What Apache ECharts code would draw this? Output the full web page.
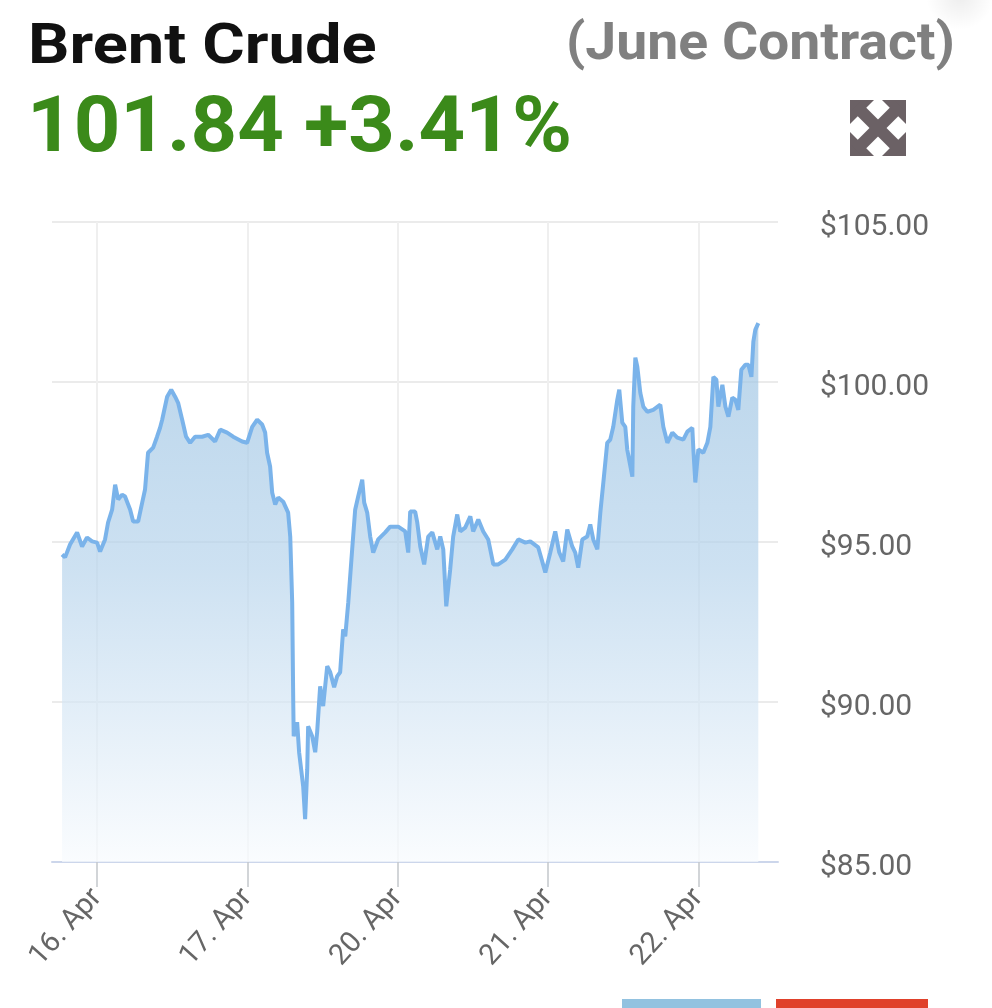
<!DOCTYPE html>
<html><head><meta charset="utf-8">
<script src="https://cdn.jsdelivr.net/npm/echarts@6/dist/echarts.min.js"></script>
<style>html,body{margin:0;padding:0;background:#fff}#c{width:992px;height:1008px}</style>
</head><body><div id="c"></div>
<script>
const xTickValues = [0, 1, 2, 3, 4];
const xTickLabels = ['16. Apr', '17. Apr', '20. Apr', '21. Apr', '22. Apr'];
const yMin = 85, yMax = 105, yStep = 5;
const titleText = 'Brent Crude';
const contractText = '(June Contract)';
const quoteText = '101.84 +3.41%';

// x = trading-day index (16 Apr = 0, 17 Apr = 1, 20 Apr = 2, 21 Apr = 3, 22 Apr = 4)
const days = [
  -0.233,-0.213,-0.180,-0.133,-0.100,-0.067,-0.033,0.000,0.020,0.053,
  0.073,0.100,0.120,0.140,0.166,0.186,0.220,0.240,0.273,0.300,
  0.319,0.339,0.373,0.399,0.419,0.433,0.466,0.493,0.519,0.539,
  0.566,0.592,0.619,0.652,0.699,0.739,0.785,0.819,0.865,0.905,
  0.965,0.998,1.032,1.065,1.098,1.118,1.131,1.151,1.165,1.185,
  1.205,1.238,1.271,1.285,1.298,1.305,1.308,1.331,1.344,1.371,
  1.384,1.398,1.404,1.431,1.451,1.464,1.484,1.504,1.531,1.551,
  1.577,1.597,1.617,1.637,1.651,1.671,1.697,1.717,1.737,1.764,
  1.777,1.797,1.817,1.837,1.870,1.917,1.950,2.003,2.050,2.070,
  2.083,2.116,2.130,2.150,2.176,2.203,2.230,2.263,2.283,2.303,
  2.323,2.349,2.369,2.396,2.416,2.449,2.483,2.502,2.536,2.569,
  2.602,2.636,2.669,2.716,2.762,2.802,2.849,2.882,2.895,2.935,
  2.982,3.015,3.048,3.075,3.101,3.128,3.161,3.181,3.201,3.228,
  3.261,3.281,3.301,3.328,3.348,3.368,3.394,3.414,3.434,3.461,
  3.474,3.494,3.514,3.527,3.561,3.567,3.581,3.594,3.614,3.634,
  3.661,3.700,3.747,3.767,3.794,3.827,3.860,3.900,3.927,3.960,
  3.967,3.980,4.000,4.033,4.060,4.080,4.100,4.120,4.133,4.160,
  4.180,4.200,4.226,4.246,4.266,4.286,4.313,4.333,4.353,4.366,
  4.379,4.399
];
const prices = [
  94.61,94.52,94.92,95.30,94.86,95.14,95.02,94.98,94.70,95.08,
  95.61,96.01,96.79,96.33,96.48,96.42,96.01,95.64,95.64,96.23,
  96.64,97.79,97.95,98.29,98.57,98.82,99.54,99.76,99.54,99.35,
  98.82,98.29,98.10,98.29,98.29,98.35,98.14,98.51,98.42,98.29,
  98.14,98.10,98.60,98.82,98.67,98.42,97.79,97.36,96.54,96.17,
  96.39,96.26,95.92,95.17,93.11,89.99,88.93,89.37,88.43,87.37,
  86.34,87.90,89.24,88.93,88.43,89.06,90.49,89.87,91.12,90.93,
  90.46,90.80,90.93,92.27,92.05,93.11,94.77,96.01,96.42,96.95,
  96.23,95.92,95.17,94.67,95.08,95.30,95.48,95.48,95.33,94.67,
  95.95,95.95,95.61,94.86,94.30,95.17,95.30,94.77,95.17,94.77,
  92.99,94.14,95.17,95.86,95.33,95.45,95.80,95.33,95.70,95.33,
  95.08,94.30,94.30,94.45,94.77,95.08,94.98,95.02,95.08,94.83,
  94.05,94.67,95.33,94.67,94.39,95.39,94.86,94.67,94.20,95.08,
  95.17,95.55,95.08,94.77,95.92,96.86,98.10,98.20,98.60,99.45,
  99.76,98.73,98.60,97.89,97.04,99.23,100.76,100.48,99.66,99.23,
  99.07,99.13,99.29,98.60,98.10,98.42,98.26,98.20,98.45,98.57,
  97.89,96.86,97.89,97.79,98.10,98.60,100.16,100.07,99.23,99.91,
  99.23,98.92,99.51,99.45,99.13,100.38,100.54,100.54,100.16,101.26,
  101.63,101.84
];

const seriesData = days.map((d, i) => [d, prices[i]]);
const chart = echarts.init(document.getElementById('c'), null, {renderer: 'canvas'});
const FONT = 'Roboto, "Noto Sans", sans-serif';
const ICON = '#6b6165';

chart.setOption({
  animation: false,
  backgroundColor: '#ffffff',
  grid: {left: 52, right: 214, top: 222, bottom: 146},
  xAxis: {
    type: 'value', min: -0.3, max: 4.53,
    axisLine: {show: true, onZero: false, lineStyle: {color: '#ccd6eb', width: 2}},
    axisTick: {show: true, length: 25, customValues: xTickValues, lineStyle: {color: '#c4c7cc', width: 1.5}},
    axisLabel: {
      customValues: xTickValues, rotate: 48, margin: 31, color: '#666666',
      fontSize: 29, fontFamily: FONT,
      formatter: v => xTickLabels[xTickValues.indexOf(Math.round(v))] || ''
    },
    splitLine: {show: true, lineStyle: {color: '#efefef', width: 2}}
  },
  yAxis: {
    type: 'value', position: 'right', min: yMin, max: yMax, interval: yStep,
    axisLine: {show: false}, axisTick: {show: false},
    axisLabel: {margin: 42, color: '#666666', fontSize: 30, fontFamily: FONT,
      verticalAlign: 'top', lineHeight: 11,
      formatter: v => '$' + v.toFixed(2)},
    splitLine: {show: true, lineStyle: {color: '#ebebeb', width: 2}}
  },
  series: [{
    type: 'line', data: seriesData, showSymbol: false, symbol: 'none',
    lineStyle: {color: '#7ab3ea', width: 4},
    areaStyle: {
      origin: 'start',
      color: new echarts.graphic.LinearGradient(0, 0, 0, 1, [
        {offset: 0, color: '#9cc3e2'},
        {offset: 0.45, color: '#b7d4ec'},
        {offset: 1, color: '#f8fbfe'}
      ])
    }
  }],
  graphic: [
    {type: 'ellipse', shape: {cx: 960, cy: -4, rx: 120, ry: 34},
      style: {fill: new echarts.graphic.RadialGradient(0.5, 0.5, 0.5, [
        {offset: 0, color: 'rgba(0,0,0,0.07)'}, {offset: 1, color: 'rgba(0,0,0,0)'}])}},
    {type: 'text', x: 28, y: 21, scaleX: 1.16, style: {text: titleText, font: 'bold 56px ' + FONT, fill: '#111111', textAlign: 'left', textVerticalAlign: 'top'}},
    {type: 'text', x: 955, y: 20, scaleX: 1.064, style: {text: contractText, font: 'bold 52px ' + FONT, fill: '#808080', textAlign: 'right', textVerticalAlign: 'top'}},
    {type: 'text', x: 27, y: 93, scaleX: 1.056, style: {text: quoteText, font: 'bold 77px ' + FONT, fill: '#3b8a1a', textAlign: 'left', textVerticalAlign: 'top'}},
    {type: 'group', x: 850, y: 100, children: [
      {type: 'polygon', shape: {points: [[0, 0], [24, 0], [0, 24]]}, style: {fill: ICON}},
      {type: 'polygon', shape: {points: [[56, 0], [32, 0], [56, 24]]}, style: {fill: ICON}},
      {type: 'polygon', shape: {points: [[0, 56], [24, 56], [0, 32]]}, style: {fill: ICON}},
      {type: 'polygon', shape: {points: [[56, 56], [32, 56], [56, 32]]}, style: {fill: ICON}},
      {type: 'line', shape: {x1: 6, y1: 6, x2: 50, y2: 50}, style: {stroke: ICON, lineWidth: 12}},
      {type: 'line', shape: {x1: 50, y1: 6, x2: 6, y2: 50}, style: {stroke: ICON, lineWidth: 12}}
    ]},
    {type: 'rect', shape: {x: 622, y: 999, width: 139, height: 12}, style: {fill: '#92c2e0'}},
    {type: 'rect', shape: {x: 776, y: 999, width: 152, height: 12}, style: {fill: '#e0412b'}}
  ]
});
</script>
</body></html>
